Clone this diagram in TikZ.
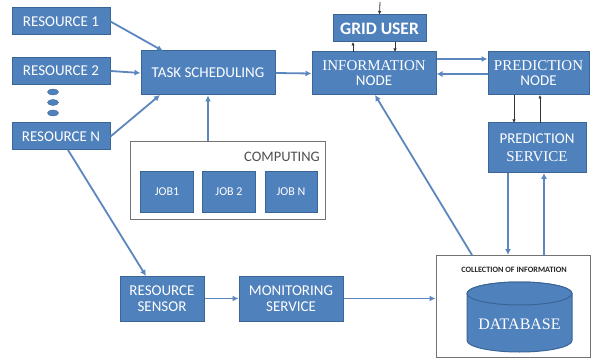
\documentclass[tikz,border=0pt]{standalone}
\usepackage{fontspec}
\setmainfont{Liberation Serif}
\setsansfont{Carlito}
\usetikzlibrary{arrows.meta,shapes.geometric}
\definecolor{boxblue}{HTML}{4F81BD}
\definecolor{boxedge}{HTML}{3A6596}
\definecolor{arrblue}{HTML}{5B86BE}
\definecolor{txtgray}{HTML}{505050}
\newcommand{\rmf}{\rmfamily\fontsize{15}{17}\selectfont}
\newcommand{\sff}{\sffamily\fontsize{15}{17}\selectfont}
\tikzset{
  bx/.style={draw=boxedge,line width=1pt,fill=boxblue,text=white,inner sep=0pt,align=center},
  frame/.style={draw=txtgray!80,line width=1pt,fill=white},
  arr/.style={draw=arrblue,line width=1.8pt,-{Latex[length=6pt,width=6pt]}},
  thin/.style={draw=black!80,line width=0.8pt,-{Latex[length=3.5pt,width=3.5pt]}},
  sf/.style={font=\sff},
}
\begin{document}
\begin{tikzpicture}[x=1pt,y=-1pt]
\useasboundingbox (0,0) rectangle (591,358);
% resources
\node[bx,sf,minimum width=98pt,minimum height=27pt] (r1) at (61,21.5) {RESOURCE 1};
\node[bx,sf,minimum width=98pt,minimum height=27pt] (r2) at (61,71) {RESOURCE 2};
\node[bx,sf,minimum width=98pt,minimum height=27pt] (rn) at (61,136.5) {RESOURCE N};
\foreach \yy/\nm in {92/d1,102.5/d2,113/d3}
  \node[ellipse,draw=boxedge,fill=boxblue,minimum width=11pt,minimum height=6pt,inner sep=0pt] (\nm) at (53,\yy) {};
% task scheduling
\node[bx,sf,minimum width=134pt,minimum height=44pt] (ts) at (208,73) {TASK SCHEDULING};
% computing frame
\node[frame,minimum width=195pt,minimum height=77pt,inner sep=0pt] (comp) at (227.5,180.5) {};
\node[font=\sffamily\fontsize{14.5}{15}\selectfont,text=txtgray,anchor=east,inner sep=0pt] (ctxt) at (320,157) {COMPUTING};
\node[bx,font=\sffamily\fontsize{12}{13}\selectfont,minimum width=53pt,minimum height=40pt] (j1) at (167,192) {JOB1};
\node[bx,font=\sffamily\fontsize{12}{13}\selectfont,minimum width=53pt,minimum height=40pt] (j2) at (229,192) {JOB 2};
\node[bx,font=\sffamily\fontsize{12}{13}\selectfont,minimum width=52pt,minimum height=40pt] (jn) at (291,192) {JOB N};
% grid user
\node[bx,font=\sffamily\bfseries\fontsize{17.5}{18}\selectfont,minimum width=93pt,minimum height=27pt] (gu) at (379.5,28.5) {GRID USER};
% information node
\node[bx,font=\rmf,minimum width=124pt,minimum height=43pt] (in) at (374,73.5) {INFORMATION\\[-2pt]{\sff NODE}};
% prediction node
\node[bx,font=\rmf,minimum width=101pt,minimum height=43pt] (pn) at (538.5,73.5) {PREDICTION\\[-2pt]{\sff NODE}};
% prediction service
\node[bx,font=\rmf,minimum width=98pt,minimum height=50pt] (ps) at (537,148) {{\sff PREDICTION}\\[1pt]SERVICE};
% sensor, monitoring
\node[bx,sf,minimum width=84pt,minimum height=45pt] (rs) at (162,298.5) {RESOURCE\\[-1pt]SENSOR};
\node[bx,sf,minimum width=104pt,minimum height=45pt] (ms) at (291,298.5) {MONITORING\\[-1pt]SERVICE};
% collection frame
\node[frame,minimum width=154pt,minimum height=102pt,inner sep=0pt] (col) at (513,306) {};
\node[font=\sffamily\bfseries\fontsize{8.2}{9}\selectfont,text=black!85,inner sep=0pt] (ctitle) at (514,270) {COLLECTION OF INFORMATION};
% database cylinder
\fill[boxblue,draw=boxedge,line width=1pt] (467,293.5) -- (467,340.5)
  arc[start angle=180,end angle=0,x radius=52.5,y radius=11.5] -- (572,293.5)
  arc[start angle=0,end angle=-180,x radius=52.5,y radius=11.5] -- cycle;
\draw[boxedge,fill=boxblue,line width=1pt] (519.5,293.5) ellipse[x radius=52.5,y radius=11.5];
\node[text=white,font=\rmfamily\fontsize{16}{17}\selectfont,inner sep=0pt] (db) at (519.5,324) {DATABASE};
% connectors
\coordinate (tsTop) at (163,51);
\coordinate (tsBot) at (160,95);
\draw[arr] (r1.east) -- (tsTop);
\draw[arr] (r2.east) -- (ts.west);
\draw[arr] (rn.east) -- (tsBot);
\draw[arr] (comp.north -| ts.south) -- (ts.south);
\draw[arr] (ts.east) -- (in.west);
\draw[arr] ([yshift=-0.5pt]pn.west) -- ([yshift=-0.5pt]in.east);
\draw[arr] ([yshift=14.5pt]in.east) -- ([yshift=14.5pt]pn.west);
\coordinate (rnB) at (68,150);
\coordinate (rsT) at (146,276);
\draw[arr] (rnB) -- (rsT);
\draw[arr] (rs.east) -- (ms.west);
\draw[arr] (ms.east) -- (col.west |- ms.east);
\coordinate (colA) at (472,255);
\coordinate (inB) at (375,95);
\draw[arr] (colA) -- (inB);
\coordinate (psL) at (508,173);
\coordinate (psR) at (544,173);
\coordinate (colL) at (508,255);
\coordinate (colR) at (544,255);
\draw[arr] (psL) -- (colL);
\draw[arr] (colR) -- (psR);
% thin black arrows
\coordinate (topIn) at (380,2);
\draw[thin] (topIn) -- (gu.north);
\coordinate (guL) at (353,42);
\coordinate (inL) at (353,52);
\coordinate (guR) at (395,42);
\coordinate (inR) at (395,52);
\draw[thin] (inL) -- (guL);
\draw[thin] (guR) -- (inR);
\coordinate (pnL) at (514,95);
\coordinate (psTL) at (514,123);
\coordinate (pnR) at (540,95);
\coordinate (psTR) at (540,123);
\draw[thin] (pnL) -- (psTL);
\draw[thin] (psTR) -- (pnR);
\end{tikzpicture}
\end{document}
